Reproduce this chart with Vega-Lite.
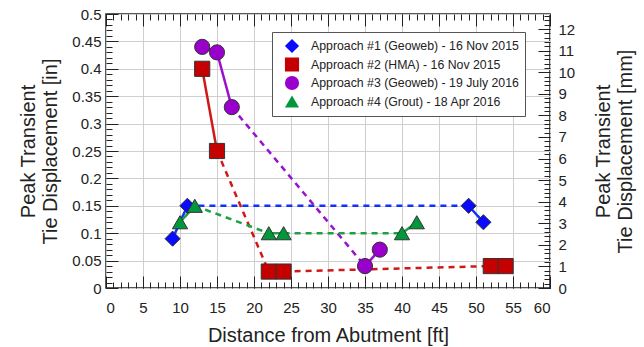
{
  "$schema": "https://vega.github.io/schema/vega-lite/v6.json",
  "width": 444,
  "height": 274,
  "autosize": {"type": "none"},
  "padding": {"left": 106, "top": 14, "right": 94, "bottom": 59},
  "background": "white",
  "config": {
    "view": {"stroke": "#222222", "strokeWidth": 1.5},
    "font": "Liberation Sans",
    "axis": {
      "labelFont": "Liberation Sans",
      "titleFont": "Liberation Sans",
      "labelFontSize": 15,
      "titleFontSize": 20,
      "titleFontWeight": "normal",
      "labelColor": "#222222",
      "titleColor": "#222222",
      "tickColor": "#222222",
      "tickWidth": 1,
      "gridColor": "#cfcfcf",
      "gridWidth": 1,
      "domain": false
    },
    "legend": {
      "fillColor": "white",
      "strokeColor": "#555555",
      "padding": 6,
      "symbolOffset": 6,
      "labelFontSize": 12.3,
      "labelFont": "Liberation Sans",
      "labelColor": "#222222",
      "symbolSize": 200,
      "symbolStrokeColor": "#333333",
      "symbolStrokeWidth": 1,
      "symbolOpacity": 1,
      "clipHeight": 16,
      "rowPadding": 2.5,
      "labelOffset": 11,
      "labelLimit": 300
    }
  },
  "datasets": {
    "pts": [
      {"series": "Approach #1 (Geoweb) - 16 Nov 2015", "x": 9, "y": 0.09},
      {"series": "Approach #1 (Geoweb) - 16 Nov 2015", "x": 11, "y": 0.15},
      {"series": "Approach #1 (Geoweb) - 16 Nov 2015", "x": 49, "y": 0.15},
      {"series": "Approach #1 (Geoweb) - 16 Nov 2015", "x": 51, "y": 0.12},
      {"series": "Approach #2 (HMA) - 16 Nov 2015", "x": 13, "y": 0.40},
      {"series": "Approach #2 (HMA) - 16 Nov 2015", "x": 15, "y": 0.25},
      {"series": "Approach #2 (HMA) - 16 Nov 2015", "x": 22, "y": 0.03},
      {"series": "Approach #2 (HMA) - 16 Nov 2015", "x": 24, "y": 0.03},
      {"series": "Approach #2 (HMA) - 16 Nov 2015", "x": 52, "y": 0.04},
      {"series": "Approach #2 (HMA) - 16 Nov 2015", "x": 54, "y": 0.04},
      {"series": "Approach #3 (Geoweb) - 19 July 2016", "x": 13, "y": 0.44},
      {"series": "Approach #3 (Geoweb) - 19 July 2016", "x": 15, "y": 0.43},
      {"series": "Approach #3 (Geoweb) - 19 July 2016", "x": 17, "y": 0.33},
      {"series": "Approach #3 (Geoweb) - 19 July 2016", "x": 35, "y": 0.04},
      {"series": "Approach #3 (Geoweb) - 19 July 2016", "x": 37, "y": 0.07},
      {"series": "Approach #4 (Grout) - 18 Apr 2016", "x": 10, "y": 0.12},
      {"series": "Approach #4 (Grout) - 18 Apr 2016", "x": 12, "y": 0.15},
      {"series": "Approach #4 (Grout) - 18 Apr 2016", "x": 22, "y": 0.10},
      {"series": "Approach #4 (Grout) - 18 Apr 2016", "x": 24, "y": 0.10},
      {"series": "Approach #4 (Grout) - 18 Apr 2016", "x": 40, "y": 0.10},
      {"series": "Approach #4 (Grout) - 18 Apr 2016", "x": 42, "y": 0.12}
    ],
    "segs": [
      {"series": "Approach #1 (Geoweb) - 16 Nov 2015", "seg": "b1", "dash": "solid", "x": 9, "y": 0.09},
      {"series": "Approach #1 (Geoweb) - 16 Nov 2015", "seg": "b1", "dash": "solid", "x": 11, "y": 0.15},
      {"series": "Approach #1 (Geoweb) - 16 Nov 2015", "seg": "b2", "dash": "dashed", "x": 11, "y": 0.15},
      {"series": "Approach #1 (Geoweb) - 16 Nov 2015", "seg": "b2", "dash": "dashed", "x": 49, "y": 0.15},
      {"series": "Approach #1 (Geoweb) - 16 Nov 2015", "seg": "b3", "dash": "solid", "x": 49, "y": 0.15},
      {"series": "Approach #1 (Geoweb) - 16 Nov 2015", "seg": "b3", "dash": "solid", "x": 51, "y": 0.12},
      {"series": "Approach #2 (HMA) - 16 Nov 2015", "seg": "r1", "dash": "solid", "x": 13, "y": 0.40},
      {"series": "Approach #2 (HMA) - 16 Nov 2015", "seg": "r1", "dash": "solid", "x": 15, "y": 0.25},
      {"series": "Approach #2 (HMA) - 16 Nov 2015", "seg": "r2", "dash": "dashed", "x": 15, "y": 0.25},
      {"series": "Approach #2 (HMA) - 16 Nov 2015", "seg": "r2", "dash": "dashed", "x": 22, "y": 0.03},
      {"series": "Approach #2 (HMA) - 16 Nov 2015", "seg": "r3", "dash": "solid", "x": 22, "y": 0.03},
      {"series": "Approach #2 (HMA) - 16 Nov 2015", "seg": "r3", "dash": "solid", "x": 24, "y": 0.03},
      {"series": "Approach #2 (HMA) - 16 Nov 2015", "seg": "r4", "dash": "dashed", "x": 24, "y": 0.03},
      {"series": "Approach #2 (HMA) - 16 Nov 2015", "seg": "r4", "dash": "dashed", "x": 52, "y": 0.04},
      {"series": "Approach #2 (HMA) - 16 Nov 2015", "seg": "r5", "dash": "solid", "x": 52, "y": 0.04},
      {"series": "Approach #2 (HMA) - 16 Nov 2015", "seg": "r5", "dash": "solid", "x": 54, "y": 0.04},
      {"series": "Approach #3 (Geoweb) - 19 July 2016", "seg": "p1", "dash": "solid", "x": 13, "y": 0.44},
      {"series": "Approach #3 (Geoweb) - 19 July 2016", "seg": "p1", "dash": "solid", "x": 15, "y": 0.43},
      {"series": "Approach #3 (Geoweb) - 19 July 2016", "seg": "p1", "dash": "solid", "x": 17, "y": 0.33},
      {"series": "Approach #3 (Geoweb) - 19 July 2016", "seg": "p2", "dash": "dashed", "x": 17, "y": 0.33},
      {"series": "Approach #3 (Geoweb) - 19 July 2016", "seg": "p2", "dash": "dashed", "x": 35, "y": 0.04},
      {"series": "Approach #3 (Geoweb) - 19 July 2016", "seg": "p3", "dash": "solid", "x": 35, "y": 0.04},
      {"series": "Approach #3 (Geoweb) - 19 July 2016", "seg": "p3", "dash": "solid", "x": 37, "y": 0.07},
      {"series": "Approach #4 (Grout) - 18 Apr 2016", "seg": "g1", "dash": "solid", "x": 10, "y": 0.12},
      {"series": "Approach #4 (Grout) - 18 Apr 2016", "seg": "g1", "dash": "solid", "x": 12, "y": 0.15},
      {"series": "Approach #4 (Grout) - 18 Apr 2016", "seg": "g2", "dash": "dashed", "x": 12, "y": 0.15},
      {"series": "Approach #4 (Grout) - 18 Apr 2016", "seg": "g2", "dash": "dashed", "x": 22, "y": 0.10},
      {"series": "Approach #4 (Grout) - 18 Apr 2016", "seg": "g3", "dash": "solid", "x": 22, "y": 0.10},
      {"series": "Approach #4 (Grout) - 18 Apr 2016", "seg": "g3", "dash": "solid", "x": 24, "y": 0.10},
      {"series": "Approach #4 (Grout) - 18 Apr 2016", "seg": "g4", "dash": "dashed", "x": 24, "y": 0.10},
      {"series": "Approach #4 (Grout) - 18 Apr 2016", "seg": "g4", "dash": "dashed", "x": 40, "y": 0.10},
      {"series": "Approach #4 (Grout) - 18 Apr 2016", "seg": "g5", "dash": "solid", "x": 40, "y": 0.10},
      {"series": "Approach #4 (Grout) - 18 Apr 2016", "seg": "g5", "dash": "solid", "x": 42, "y": 0.12}
    ]
  },
  "resolve": {"axis": {"x": "independent", "y": "independent"}},
  "layer": [
    {
      "data": {"name": "segs"},
      "mark": {"type": "line", "strokeWidth": 2.5},
      "encoding": {
        "x": {"field": "x", "type": "quantitative", "scale": {"domain": [0, 60], "nice": false, "zero": false},
          "axis": {"orient": "bottom", "values": [0,5,10,15,20,25,30,35,40,45,50,55,60], "format": "d", "ticks": false, "grid": true, "labelPadding": 12, "title": "Distance from Abutment [ft]", "titlePadding": 10}},
        "y": {"field": "y", "type": "quantitative", "scale": {"domain": [0, 0.5], "nice": false},
          "axis": {"orient": "left", "values": [0,0.05,0.1,0.15,0.2,0.25,0.3,0.35,0.4,0.45,0.5], "format": "~g", "ticks": false, "grid": true, "labelPadding": 5, "title": ["Peak Transient", "Tie Displacement [in]"], "titlePadding": 11, "titleLineHeight": 22}},
        "stroke": {"field": "series", "type": "nominal", "legend": null,
          "scale": {"domain": ["Approach #4 (Grout) - 18 Apr 2016", "Approach #3 (Geoweb) - 19 July 2016", "Approach #2 (HMA) - 16 Nov 2015", "Approach #1 (Geoweb) - 16 Nov 2015"], "range": ["#1ea044", "#9a10d0", "#d01818", "#1030ff"]}},
        "strokeDash": {"field": "dash", "type": "nominal", "legend": null,
          "scale": {"domain": ["solid", "dashed"], "range": [[1, 0], [6, 5]]}},
        "detail": {"field": "seg"}
      }
    },
    {
      "data": {"name": "pts"},
      "mark": {"type": "point", "filled": true, "opacity": 1, "size": 230, "strokeWidth": 1, "stroke": "#333333"},
      "encoding": {
        "x": {"field": "x", "type": "quantitative", "scale": {"domain": [0, 60], "nice": false, "zero": false},
          "axis": {"orient": "bottom", "values": [0,5,10,15,20,25,30,35,40,45,50,55,60], "tickSize": -12, "labels": false, "grid": false, "title": null}},
        "y": {"field": "y", "type": "quantitative", "scale": {"domain": [0, 0.5], "nice": false},
          "axis": {"orient": "left", "values": [0,0.05,0.1,0.15,0.2,0.25,0.3,0.35,0.4,0.45,0.5], "tickSize": -12, "labels": false, "grid": false, "title": null}},
        "color": {"field": "series", "type": "nominal",
          "scale": {"domain": ["Approach #1 (Geoweb) - 16 Nov 2015", "Approach #2 (HMA) - 16 Nov 2015", "Approach #3 (Geoweb) - 19 July 2016", "Approach #4 (Grout) - 18 Apr 2016"], "range": ["#0a0aff", "#c40000", "#9a00cc", "#00983a"]},
          "legend": {"orient": "none", "legendX": 166, "legendY": 18, "title": null}},
        "shape": {"field": "series", "type": "nominal",
          "scale": {"domain": ["Approach #1 (Geoweb) - 16 Nov 2015", "Approach #2 (HMA) - 16 Nov 2015", "Approach #3 (Geoweb) - 19 July 2016", "Approach #4 (Grout) - 18 Apr 2016"], "range": ["diamond", "square", "circle", "triangle-up"]},
          "legend": {"orient": "none", "legendX": 166, "legendY": 18, "title": null}}
      }
    },
    {
      "data": {"name": "pts"},
      "mark": {"type": "point", "opacity": 0},
      "encoding": {
        "x": {"field": "x", "type": "quantitative", "scale": {"domain": [0, 60], "nice": false, "zero": false},
          "axis": {"orient": "bottom", "values": [0,1,2,3,4,5,6,7,8,9,10,11,12,13,14,15,16,17,18,19,20,21,22,23,24,25,26,27,28,29,30,31,32,33,34,35,36,37,38,39,40,41,42,43,44,45,46,47,48,49,50,51,52,53,54,55,56,57,58,59,60], "tickSize": -6, "labels": false, "grid": false, "title": null}},
        "y": {"field": "y", "type": "quantitative", "scale": {"domain": [0, 0.5], "nice": false},
          "axis": {"orient": "left", "values": [0,0.01,0.02,0.03,0.04,0.05,0.06,0.07,0.08,0.09,0.1,0.11,0.12,0.13,0.14,0.15,0.16,0.17,0.18,0.19,0.2,0.21,0.22,0.23,0.24,0.25,0.26,0.27,0.28,0.29,0.3,0.31,0.32,0.33,0.34,0.35,0.36,0.37,0.38,0.39,0.4,0.41,0.42,0.43,0.44,0.45,0.46,0.47,0.48,0.49,0.5], "tickSize": -6, "labels": false, "grid": false, "title": null}}
      }
    },
    {
      "data": {"name": "pts"},
      "mark": {"type": "point", "opacity": 0},
      "encoding": {
        "x": {"field": "x", "type": "quantitative", "scale": {"domain": [0, 60], "nice": false, "zero": false},
          "axis": {"orient": "top", "values": [0,5,10,15,20,25,30,35,40,45,50,55,60], "tickSize": -12, "labels": false, "grid": false, "title": null}},
        "y": {"field": "y", "type": "quantitative", "scale": {"domain": [0, 0.5], "nice": false},
          "axis": {"orient": "right", "values": [0,0.03937,0.07874,0.11811,0.15748,0.19685,0.23622,0.27559,0.31496,0.35433,0.3937,0.43307,0.47244], "labelExpr": "format(datum.value*25.4, '.0f')", "ticks": false, "grid": false, "labelPadding": 8, "title": ["Peak Transient", "Tie Displacement [mm]"], "titleAngle": 270, "titleBaseline": "top", "titlePadding": -3, "titleLineHeight": 22}}
      }
    },
    {
      "data": {"name": "pts"},
      "mark": {"type": "point", "opacity": 0},
      "encoding": {
        "x": {"field": "x", "type": "quantitative", "scale": {"domain": [0, 60], "nice": false, "zero": false},
          "axis": {"orient": "top", "values": [0,1,2,3,4,5,6,7,8,9,10,11,12,13,14,15,16,17,18,19,20,21,22,23,24,25,26,27,28,29,30,31,32,33,34,35,36,37,38,39,40,41,42,43,44,45,46,47,48,49,50,51,52,53,54,55,56,57,58,59,60], "tickSize": -6, "labels": false, "grid": false, "title": null}},
        "y": {"field": "y", "type": "quantitative", "scale": {"domain": [0, 0.5], "nice": false},
          "axis": {"orient": "right", "values": [0,0.03937,0.07874,0.11811,0.15748,0.19685,0.23622,0.27559,0.31496,0.35433,0.3937,0.43307,0.47244], "tickSize": -12, "labels": false, "grid": false, "title": null}}
      }
    },
    {
      "data": {"name": "pts"},
      "mark": {"type": "point", "opacity": 0},
      "encoding": {
        "x": {"field": "x", "type": "quantitative", "scale": {"domain": [0, 60], "nice": false, "zero": false}, "axis": null},
        "y": {"field": "y", "type": "quantitative", "scale": {"domain": [0, 0.5], "nice": false},
          "axis": {"orient": "right", "values": [0,0.007874,0.015748,0.023622,0.031496,0.03937,0.047244,0.055118,0.062992,0.070866,0.07874,0.086614,0.094488,0.102362,0.110236,0.11811,0.125984,0.133858,0.141732,0.149606,0.15748,0.165354,0.173228,0.181102,0.188976,0.19685,0.204724,0.212598,0.220472,0.228346,0.23622,0.244094,0.251968,0.259842,0.267716,0.27559,0.283464,0.291338,0.299212,0.307086,0.31496,0.322834,0.330708,0.338582,0.346456,0.35433,0.362204,0.370078,0.377952,0.385826,0.3937,0.401574,0.409448,0.417322,0.425196,0.43307,0.440944,0.448818,0.456692,0.464566,0.47244,0.480314,0.488188,0.496062], "tickSize": -6, "labels": false, "grid": false, "title": null}}
      }
    }
  ]
}
